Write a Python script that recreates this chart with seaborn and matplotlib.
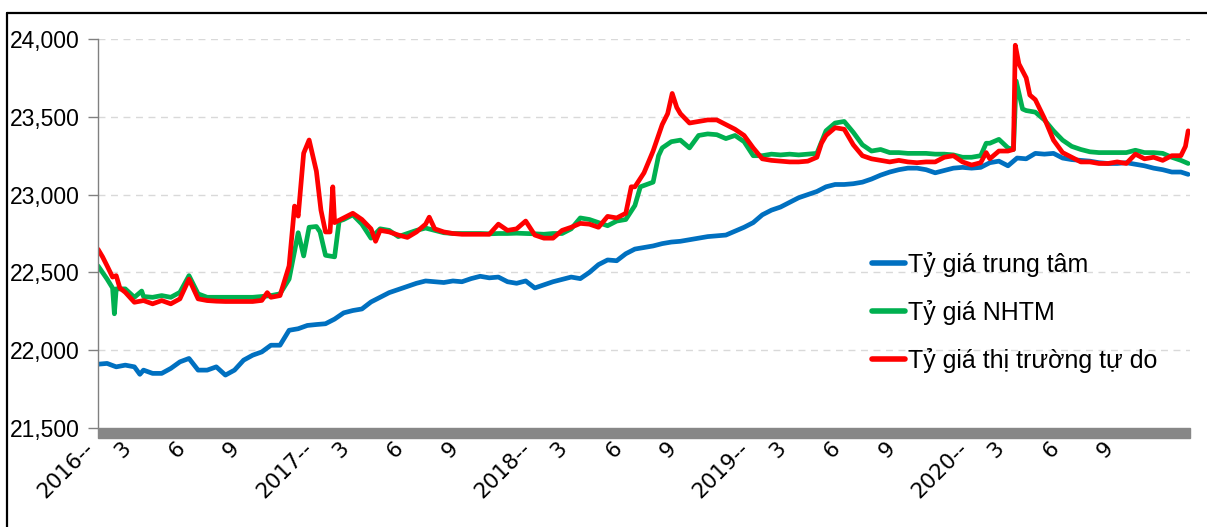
import seaborn as sns
import matplotlib.pyplot as plt
import matplotlib.patches as mpatches
import matplotlib.lines as mlines
import pandas as pd

# Months elapsed since Jan 2016 -> exchange rate (VND/USD)
central_m = [0, 0.5, 1, 1.5, 2, 2.3, 2.5, 3, 3.5, 4, 4.5, 5, 5.5, 6, 6.5, 7, 7.5, 8, 8.5, 9,
             9.5, 10, 10.5, 11, 11.5, 12, 12.5, 13, 13.5, 14, 14.5, 15, 15.5, 16, 16.5, 17,
             17.5, 18, 18.5, 19, 19.5, 20, 20.5, 21, 21.5, 22, 22.5, 23, 23.5, 24, 24.5, 25,
             25.5, 26, 26.5, 27, 27.5, 28, 28.5, 29, 29.5, 30, 30.5, 31, 31.5, 32, 32.5, 33,
             33.5, 34, 34.5, 35, 35.5, 36, 36.5, 37, 37.5, 38, 38.5, 39, 39.5, 40, 40.5, 41,
             41.5, 42, 42.5, 43, 43.5, 44, 44.5, 45, 45.5, 46, 46.5, 47, 47.5, 48, 48.5, 49,
             49.5, 50, 50.5, 51, 51.5, 52, 52.5, 53, 53.5, 54, 54.5, 55, 55.5, 56, 56.5, 57,
             57.5, 58, 58.5, 59, 59.5, 59.9]
central_v = [21910, 21915, 21893, 21904, 21893, 21845, 21872, 21851, 21851, 21883, 21925, 21947,
             21872, 21872, 21893, 21840, 21872, 21936, 21968, 21989, 22032, 22032, 22128, 22138,
             22159, 22165, 22170, 22200, 22240, 22255, 22265, 22310, 22340, 22370, 22390, 22410,
             22430, 22445, 22440, 22435, 22445, 22440, 22460, 22475, 22465, 22470, 22440, 22430,
             22445, 22400, 22420, 22440, 22455, 22470, 22460, 22500, 22550, 22580, 22575, 22620,
             22650, 22660, 22670, 22685, 22695, 22700, 22710, 22720, 22730, 22735, 22740, 22765,
             22790, 22820, 22870, 22900, 22920, 22950, 22980, 23000, 23020, 23050, 23065, 23065,
             23070, 23080, 23100, 23125, 23145, 23160, 23170, 23170, 23160, 23140, 23155, 23170,
             23175, 23170, 23175, 23205, 23215, 23185, 23235, 23230, 23265, 23260, 23265, 23235,
             23225, 23220, 23215, 23205, 23200, 23200, 23205, 23195, 23185, 23170, 23160, 23145,
             23145, 23130]

bank_m = [0, 0.5, 0.8, 0.9, 1.0, 1.5, 2, 2.4, 2.5, 3, 3.5, 4, 4.5, 5, 5.5, 6, 6.5, 7, 7.5, 8,
          8.5, 9, 9.5, 10, 10.5, 11, 11.3, 11.6, 12, 12.2, 12.5, 13, 13.25, 13.5, 14, 14.5, 15,
          15.5, 16, 16.5, 17, 17.5, 18, 18.5, 19, 19.5, 20, 20.5, 21, 21.5, 22, 22.5, 23, 23.5,
          24, 24.5, 25, 25.5, 26, 26.5, 27, 27.5, 28, 28.5, 29, 29.5, 29.8, 30.5, 30.8, 31, 31.5,
          32, 32.5, 33, 33.5, 34, 34.5, 35, 35.5, 36, 36.5, 37, 37.5, 38, 38.5, 39, 39.5, 40,
          40.5, 41, 41.5, 42, 42.5, 43, 43.5, 44, 44.5, 45, 45.5, 46, 46.5, 47, 47.5, 48, 48.5,
          48.8, 49, 49.5, 50, 50.3, 50.45, 50.8, 51, 51.5, 52, 52.5, 53, 53.5, 54, 54.5, 55,
          55.5, 56, 56.5, 57, 57.5, 58, 58.5, 59, 59.5, 59.9]
bank_v = [22542, 22457, 22400, 22234, 22394, 22394, 22340, 22380, 22345, 22340, 22351, 22340,
          22372, 22479, 22362, 22340, 22340, 22340, 22340, 22340, 22340, 22345, 22351, 22362,
          22457, 22755, 22606, 22790, 22795, 22760, 22610, 22600, 22830, 22840, 22870, 22810,
          22720, 22780, 22770, 22730, 22750, 22770, 22785, 22770, 22755, 22750, 22750, 22750,
          22750, 22748, 22750, 22750, 22752, 22750, 22748, 22745, 22750, 22750, 22780, 22850,
          22840, 22820, 22800, 22830, 22840, 22930, 23050, 23080, 23250, 23300, 23340, 23350,
          23300, 23380, 23390, 23385, 23360, 23380, 23340, 23250, 23250, 23260, 23255, 23260,
          23255, 23260, 23265, 23410, 23460, 23470, 23400, 23320, 23280, 23290, 23270, 23270,
          23265, 23265, 23265, 23260, 23260, 23255, 23240, 23240, 23250, 23330, 23330, 23355,
          23300, 23290, 23730, 23550, 23540, 23530, 23480, 23410, 23350, 23310, 23290, 23275,
          23270, 23270, 23270, 23270, 23285, 23270, 23270, 23265, 23240, 23220, 23200]

free_m = [0, 0.25, 0.5, 0.8, 1, 1.2, 1.5, 2, 2.5, 3, 3.5, 4, 4.5, 5, 5.5, 6, 6.5, 7, 7.5, 8,
          8.5, 9, 9.3, 9.5, 10, 10.5, 10.8, 11, 11.3, 11.6, 12, 12.25, 12.5, 12.75, 12.9, 13,
          13.5, 14, 14.5, 15, 15.25, 15.5, 16, 16.5, 17, 17.5, 18, 18.2, 18.5, 19, 19.5, 20,
          20.5, 21, 21.5, 22, 22.5, 23, 23.5, 24, 24.5, 25, 25.5, 26, 26.5, 27, 27.5, 28, 28.5,
          29, 29.3, 29.5, 30, 30.5, 31, 31.3, 31.55, 31.8, 32, 32.5, 33, 33.5, 34, 34.5, 35,
          35.5, 36, 36.5, 37, 37.5, 38, 38.5, 39, 39.5, 39.75, 40, 40.5, 41, 41.5, 42, 42.5, 43,
          43.5, 44, 44.5, 45, 45.5, 46, 46.5, 47, 47.5, 48, 48.5, 48.8, 49, 49.5, 50, 50.3,
          50.4, 50.6, 51, 51.2, 51.5, 52, 52.5, 53, 53.5, 54, 54.5, 55, 55.5, 56, 56.5, 57,
          57.5, 58, 58.5, 59, 59.5, 59.75, 59.9]
free_v = [22649, 22600, 22542, 22470, 22479, 22400, 22372, 22308, 22319, 22298, 22319, 22298,
          22330, 22457, 22330, 22319, 22315, 22313, 22313, 22313, 22313, 22320, 22370, 22340,
          22351, 22542, 22926, 22862, 23266, 23351, 23150, 22900, 22760, 22760, 23050, 22820,
          22850, 22880, 22840, 22780, 22700, 22770, 22760, 22740, 22725, 22760, 22810, 22855,
          22780, 22760, 22750, 22745, 22745, 22745, 22745, 22810, 22770, 22780, 22830, 22740,
          22720, 22720, 22770, 22790, 22815, 22810, 22790, 22860, 22850, 22880, 23050, 23050,
          23140, 23280, 23450, 23520, 23650, 23560, 23520, 23460, 23470, 23480, 23480, 23450,
          23420, 23380, 23300, 23230, 23220, 23215, 23210, 23210, 23215, 23240, 23330, 23380,
          23430, 23420, 23320, 23250, 23230, 23220, 23210, 23220, 23210, 23205, 23210, 23210,
          23240, 23250, 23210, 23190, 23205, 23270, 23230, 23280, 23280, 23290, 23960, 23840,
          23750, 23640, 23610, 23490, 23350, 23270, 23240, 23210, 23210, 23200, 23200, 23210,
          23200, 23260, 23230, 23240, 23220, 23250, 23250, 23310, 23410]

series_names = ["Tỷ giá trung tâm", "Tỷ giá NHTM", "Tỷ giá thị trường tự do"]
series_colors = ["#0070C0", "#00B050", "#FF0000"]

tick_pos = [0, 2, 5, 8, 12, 14, 17, 20, 24, 26, 29, 32, 36, 38, 41, 44, 48, 50, 53, 56]
tick_labels = ["2016--", "3", "6", "9", "2017--", "3", "6", "9", "2018--", "3", "6", "9",
               "2019--", "3", "6", "9", "2020--", "3", "6", "9"]
y_ticks = [21500, 22000, 22500, 23000, 23500, 24000]

df = pd.concat([
    pd.DataFrame({"month": central_m, "rate": central_v, "series": series_names[0]}),
    pd.DataFrame({"month": bank_m, "rate": bank_v, "series": series_names[1]}),
    pd.DataFrame({"month": free_m, "rate": free_v, "series": series_names[2]}),
])

sns.set_style("white")
plt.rcParams["font.family"] = ["Liberation Sans", "DejaVu Sans"]
plt.rcParams["text.color"] = "black"
plt.rcParams["xtick.color"] = "black"
plt.rcParams["ytick.color"] = "black"

W, H = 1207, 527
fig = plt.figure(figsize=(W / 100, H / 100), dpi=100)
ax = fig.add_axes([98 / W, 1 - 428 / H, (1190 - 98) / W, (428 - 39) / H])

sns.lineplot(data=df, x="month", y="rate", hue="series", hue_order=series_names,
             palette=series_colors, linewidth=3.4, sort=False, estimator=None, ax=ax)

ax.set_xlim(0, 60)
ax.set_ylim(21500, 24000)
ax.set_xlabel("")
ax.set_ylabel("")

ax.set_yticks(y_ticks)
ax.set_yticklabels([f"{v:,}" for v in y_ticks], fontsize=16.5)
ax.tick_params(axis="y", length=7, width=1, color="#808080", labelcolor="black",
               pad=6, left=True)
ax.set_xticks(tick_pos)
ax.set_xticklabels(tick_labels, rotation=45, ha="right", fontsize=15.5,
                   family=["DejaVu Sans"])
ax.tick_params(axis="x", length=0, pad=7, labelcolor="black")

for v in y_ticks[1:]:
    ax.axhline(v, color="#D9D9D9", linewidth=1, linestyle=(0, (5, 4)), zorder=0)

for s in ["top", "right", "bottom"]:
    ax.spines[s].set_visible(False)
ax.spines["left"].set_color("#808080")
ax.spines["left"].set_linewidth(1)

# thick grey base bar under the plot
fig.patches.append(mpatches.Rectangle((98 / W, 1 - 438 / H), (1190 - 98) / W, 10 / H,
                                      transform=fig.transFigure, color="#878787"))
# outer frame (top and left edges)
fig.lines.append(mlines.Line2D([7 / W, 7 / W], [0, 1 - 12.5 / H], transform=fig.transFigure,
                               color="black", linewidth=1.6))
fig.lines.append(mlines.Line2D([7 / W, 1], [1 - 12.5 / H, 1 - 12.5 / H],
                               transform=fig.transFigure, color="black", linewidth=1.6))

leg = ax.legend(loc="upper left", bbox_to_anchor=(872 / W, 1 - 252 / H),
                bbox_transform=fig.transFigure, frameon=False, fontsize=18,
                handlelength=1.3, handletextpad=0.15, labelspacing=0.92,
                borderpad=0, borderaxespad=0)
for line in leg.get_lines():
    line.set_linewidth(4)

fig.savefig("out.png", dpi=100)
